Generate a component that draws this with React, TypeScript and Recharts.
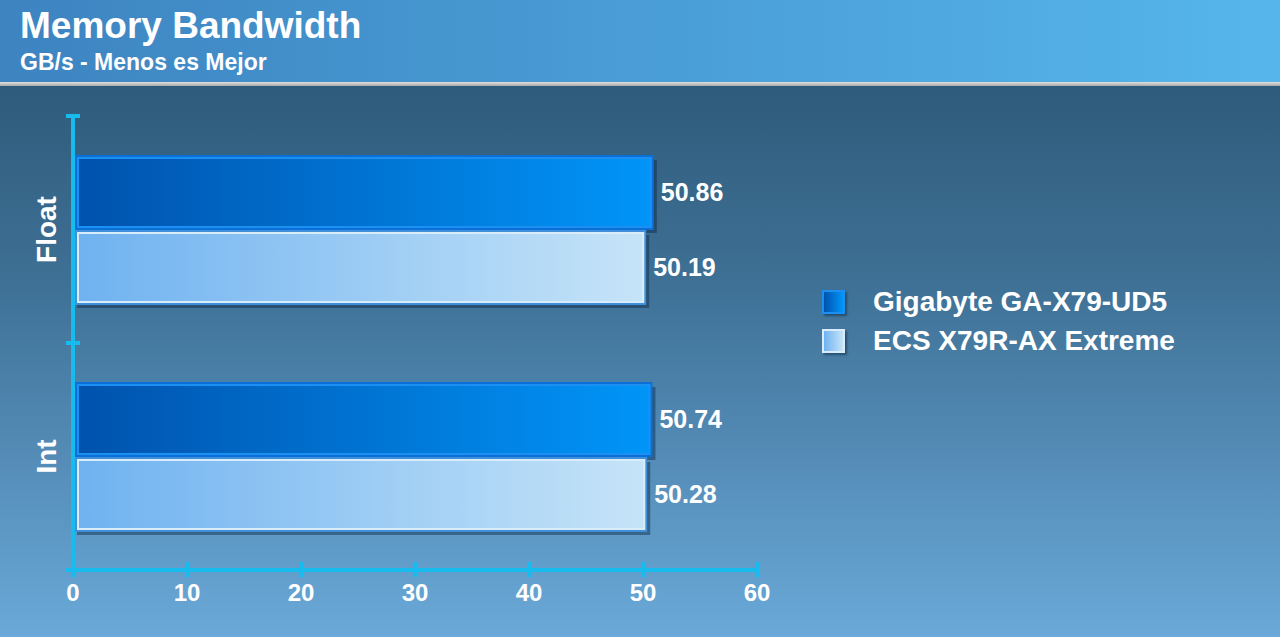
import React from "react";
import { Bar, BarChart, LabelList, XAxis, YAxis } from "recharts";

const categories = ["Float", "Int"];
const gigabyteValues = [50.86, 50.74];
const ecsValues = [50.19, 50.28];
const seriesNames = ["Gigabyte GA-X79-UD5", "ECS X79R-AX Extreme"];
const xTicks = [0, 10, 20, 30, 40, 50, 60];

const data = categories.map((name, i) => ({
  name,
  gigabyte: gigabyteValues[i],
  ecs: ecsValues[i],
}));

const FONT = "'Liberation Sans', Arial, sans-serif";
const AXIS = "#17bbee";
const CHART_W = 790;
const CHART_H = 637;
const MARGIN = { top: 116, right: 33, left: 0, bottom: 27 };
const X_AXIS_H = 40;
const PLOT_H = CHART_H - MARGIN.top - MARGIN.bottom - X_AXIS_H;
const HALF_BAND = PLOT_H / categories.length / 2;

const XTick = (props: any) => {
  const { x, y, payload } = props;
  return (
    <g>
      <line x1={x} x2={x} y1={y - 8} y2={y + 7} stroke={AXIS} strokeWidth={4} />
      <text
        x={x}
        y={y + 31}
        textAnchor="middle"
        fill="#fff"
        fontSize={24}
        fontWeight="bold"
        fontFamily={FONT}
      >
        {payload.value}
      </text>
    </g>
  );
};

const YTick = (props: any) => {
  const { x, y, payload, index } = props;
  const top = y - HALF_BAND;
  const bottom = y + HALF_BAND;
  return (
    <g>
      <line x1={x - 7} x2={x + 7} y1={top} y2={top} stroke={AXIS} strokeWidth={4} />
      {index === categories.length - 1 && (
        <line x1={x - 7} x2={x + 7} y1={bottom} y2={bottom} stroke={AXIS} strokeWidth={4} />
      )}
      <text
        x={x - 27}
        y={y}
        transform={`rotate(-90 ${x - 27} ${y})`}
        textAnchor="middle"
        dominantBaseline="central"
        fill="#fff"
        fontSize={28}
        fontWeight="bold"
        fontFamily={FONT}
      >
        {payload.value}
      </text>
    </g>
  );
};

const makeShape = (fill: string, outer: string, inner: string) => (props: any) => {
  const { x, y, width, height } = props;
  if (!width || width <= 0) return null;
  return (
    <g>
      <rect x={x + 4} y={y + 4} width={width} height={height} fill="#0a2540" opacity={0.45} />
      <rect x={x + 3} y={y} width={width - 3} height={height} fill={fill} stroke={outer} strokeWidth={2} />
      <rect
        x={x + 5}
        y={y + 2}
        width={width - 7}
        height={height - 4}
        fill="none"
        stroke={inner}
        strokeWidth={2}
      />
    </g>
  );
};

const GigabyteShape = makeShape("url(#gGrad)", "#0a6fd6", "#1c8ff2");
const EcsShape = makeShape("url(#eGrad)", "#3f8fdb", "#d9ecf9");

const labelStyle = {
  fill: "#fff",
  fontSize: 25,
  fontWeight: "bold",
  fontFamily: FONT,
};

function LegendSwatch({ from, to, border }: { from: string; to: string; border: string }) {
  return (
    <div
      style={{
        width: 19,
        height: 20,
        background: `linear-gradient(90deg, ${from}, ${to})`,
        border: `2px solid ${border}`,
        boxShadow: "2px 2px 2px rgba(10,37,64,0.5)",
      }}
    />
  );
}

export default function App() {
  const swatches = [
    { from: "#0052ad", to: "#0095f8", border: "#1c8ff2" },
    { from: "#6fb2f0", to: "#c6e4f8", border: "#d9ecf9" },
  ];
  return (
    <div
      style={{
        position: "absolute",
        left: 0,
        top: 0,
        width: 1280,
        height: 637,
        overflow: "hidden",
        fontFamily: FONT,
        background: "linear-gradient(180deg, #27526f 0%, #3f7196 45%, #6aa9d9 100%)",
      }}
    >
      <div
        style={{
          position: "absolute",
          left: 0,
          top: 0,
          width: 1280,
          height: 82,
          background: "linear-gradient(90deg, #3d84c1, #56b6eb)",
        }}
      >
        <div
          style={{
            position: "absolute",
            left: 20,
            top: 5,
            color: "#fff",
            fontWeight: "bold",
            fontSize: 37,
            lineHeight: "42px",
          }}
        >
          Memory Bandwidth
        </div>
        <div
          style={{
            position: "absolute",
            left: 20,
            top: 49,
            color: "#fff",
            fontWeight: "bold",
            fontSize: 23,
            lineHeight: "26px",
          }}
        >
          GB/s - Menos es Mejor
        </div>
      </div>
      <div
        style={{
          position: "absolute",
          left: 0,
          top: 82,
          width: 1280,
          height: 4,
          background: "linear-gradient(180deg, #e0e0e0, #a9a9a9)",
        }}
      />
      <div style={{ position: "absolute", left: 0, top: 0 }}>
        <BarChart
          width={CHART_W}
          height={CHART_H}
          data={data}
          layout="vertical"
          margin={MARGIN}
          barSize={73}
          barGap={2}
        >
          <defs>
            <linearGradient id="gGrad" x1="0" y1="0" x2="1" y2="0">
              <stop offset="0%" stopColor="#0052ad" />
              <stop offset="100%" stopColor="#0095f8" />
            </linearGradient>
            <linearGradient id="eGrad" x1="0" y1="0" x2="1" y2="0">
              <stop offset="0%" stopColor="#6fb2f0" />
              <stop offset="100%" stopColor="#c6e4f8" />
            </linearGradient>
          </defs>
          <XAxis
            type="number"
            domain={[0, 60]}
            ticks={xTicks}
            height={X_AXIS_H}
            axisLine={{ stroke: AXIS, strokeWidth: 4 }}
            tickLine={false}
            tickSize={0}
            tickMargin={0}
            tick={<XTick />}
            interval={0}
          />
          <YAxis
            type="category"
            dataKey="name"
            width={73}
            axisLine={{ stroke: AXIS, strokeWidth: 4 }}
            tickLine={false}
            tickSize={0}
            tickMargin={0}
            tick={<YTick />}
            interval={0}
          />
          <Bar dataKey="gigabyte" name={seriesNames[0]} shape={<GigabyteShape />} isAnimationActive={false}>
            <LabelList dataKey="gigabyte" position="right" offset={8} style={labelStyle} />
          </Bar>
          <Bar dataKey="ecs" name={seriesNames[1]} shape={<EcsShape />} isAnimationActive={false}>
            <LabelList dataKey="ecs" position="right" offset={8} style={labelStyle} />
          </Bar>
        </BarChart>
      </div>
      <div style={{ position: "absolute", left: 822, top: 282 }}>
        {seriesNames.map((name, i) => (
          <div
            key={name}
            style={{ display: "flex", alignItems: "center", height: 39 }}
          >
            <LegendSwatch {...swatches[i]} />
            <span
              style={{
                marginLeft: 28,
                color: "#fff",
                fontWeight: "bold",
                fontSize: 28,
              }}
            >
              {name}
            </span>
          </div>
        ))}
      </div>
    </div>
  );
}
